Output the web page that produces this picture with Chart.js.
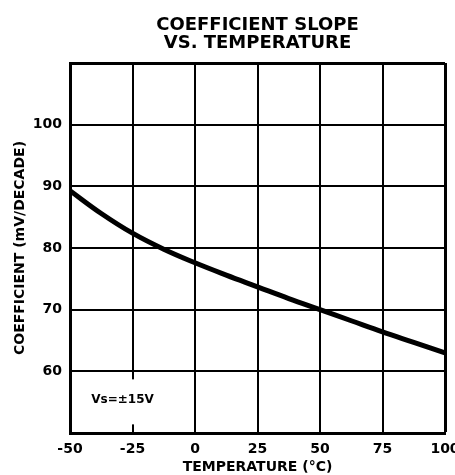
<!DOCTYPE html>
<html>
<head>
<meta charset="utf-8">
<script src="https://cdn.jsdelivr.net/npm/chart.js@4.4.0/dist/chart.umd.min.js"></script>
<style>
html,body{margin:0;padding:0;background:#fff;}
#wrap{width:455px;height:475px;}
</style>
</head>
<body>
<div id="wrap"><canvas id="c" width="455" height="475"></canvas></div>
<script>
const titleLines = ['COEFFICIENT SLOPE', 'VS. TEMPERATURE'];
const xTitle = 'TEMPERATURE (°C)';
const yTitle = 'COEFFICIENT (mV/DECADE)';
const temperatures = [-50, -37.5, -25, -12.5, 0, 12.5, 25, 37.5, 50, 62.5, 75, 87.5, 100];
const coefficients = [89.3, 85.6, 82.4, 79.8, 77.6, 75.6, 73.7, 71.8, 70.0, 68.2, 66.4, 64.7, 63.0];
const xTicks = [-50, -25, 0, 25, 50, 75, 100];
const yTicks = [60, 70, 80, 90, 100];
const noteText = 'Vs=±15V';
const notePos = {x: -29, y: 55.4, yTop: 58.7, yBottom: 51.4};

const FONT = "'DejaVu Sans', sans-serif";

const notePlugin = {
  id: 'note',
  beforeDatasetsDraw(chart) {
    const {ctx, scales: {x, y}} = chart;
    ctx.save();
    ctx.font = 'bold 12px ' + FONT;
    const w = ctx.measureText(noteText).width;
    const cx = x.getPixelForValue(notePos.x);
    const cy = y.getPixelForValue(notePos.y);
    const top = y.getPixelForValue(notePos.yTop);
    const bot = y.getPixelForValue(notePos.yBottom);
    ctx.fillStyle = '#fff';
    ctx.fillRect(cx - w / 2 - 4, top, w + 8, bot - top);
    ctx.fillStyle = '#000';
    ctx.textAlign = 'center';
    ctx.textBaseline = 'middle';
    ctx.fillText(noteText, cx, cy);
    ctx.restore();
  }
};

new Chart(document.getElementById('c'), {
  type: 'line',
  data: {
    datasets: [{
      data: temperatures.map((t, i) => ({x: t, y: coefficients[i]})),
      borderColor: '#000',
      borderWidth: 5,
      pointRadius: 0,
      tension: 0.4,
      fill: false
    }]
  },
  options: {
    responsive: false,
    animation: false,
    devicePixelRatio: 1,
    layout: {padding: {left: 0, right: 10, top: 0, bottom: 0}},
    plugins: {
      legend: {display: false},
      tooltip: {enabled: false},
      title: {
        display: true,
        text: titleLines,
        fullSize: false,
        color: '#000',
        font: {family: FONT, size: 18, weight: 'bold', lineHeight: 1.0},
        padding: {top: 16, bottom: 11}
      }
    },
    scales: {
      x: {
        type: 'linear',
        min: -50, max: 100,
        afterBuildTicks: s => { s.ticks = xTicks.map(v => ({value: v})); },
        afterFit: s => { s.height = 42; s.paddingLeft = 0; s.paddingRight = 0; },
        ticks: {color: '#000', font: {family: FONT, size: 14, weight: 'bold'}, padding: 8, maxRotation: 0},
        grid: {color: '#000', lineWidth: c => (c.tick && c.tick.value === 100) ? 3 : 2, drawTicks: false},
        border: {display: true, color: '#000', width: 3},
        title: {display: true, text: xTitle, color: '#000', font: {family: FONT, size: 14, weight: 'bold', lineHeight: 1.1}, padding: {top: 2, bottom: 0}}
      },
      y: {
        type: 'linear',
        min: 50, max: 110,
        afterBuildTicks: s => { s.ticks = [50].concat(yTicks, [110]).map(v => ({value: v})); },
        afterFit: s => { s.width = 70; s.paddingTop = 0; s.paddingBottom = 0; },
        ticks: {color: '#000', font: {family: FONT, size: 14, weight: 'bold'}, padding: 8,
          callback: v => yTicks.includes(v) ? String(v) : ''},
        grid: {color: '#000', lineWidth: c => (c.tick && c.tick.value === 110) ? 3 : 2, drawTicks: false},
        border: {display: true, color: '#000', width: 3},
        title: {display: true, text: yTitle, color: '#000', font: {family: FONT, size: 14, weight: 'bold', lineHeight: 1.0}, padding: {top: 13, bottom: 0}}
      }
    }
  },
  plugins: [notePlugin]
});
</script>
</body>
</html>
